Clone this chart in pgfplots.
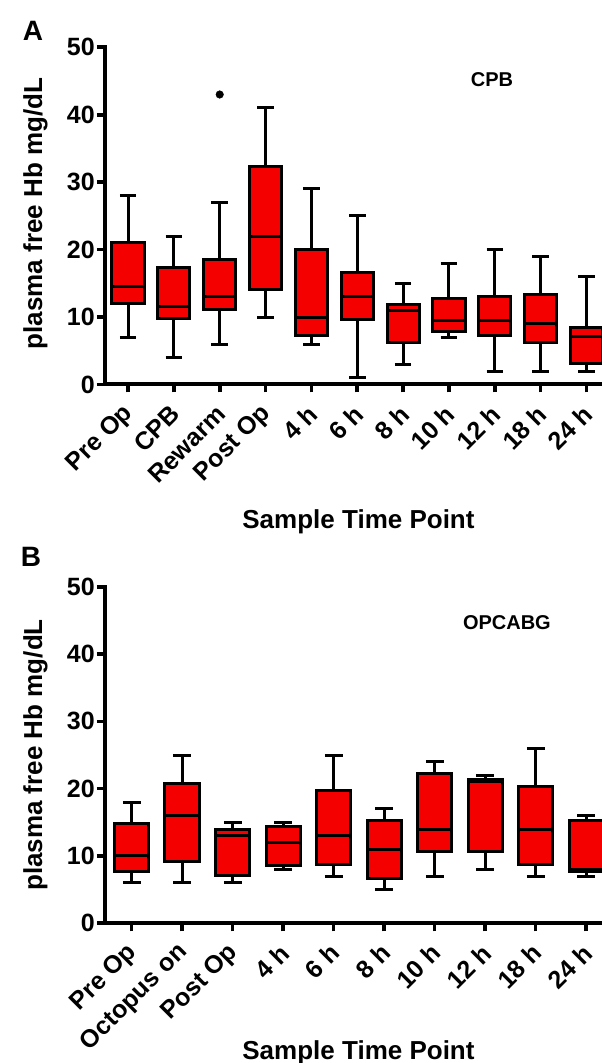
\documentclass[border=0pt]{standalone}
\usepackage{fontspec}
\setmainfont{Liberation Sans}
\usepackage{pgfplots}
\pgfplotsset{compat=1.18}
\usepgfplotslibrary{statistics}
\definecolor{boxred}{RGB}{245,0,0}
\pgfplotsset{
  gpstyle/.style={
    scale only axis, width=497pt,
    axis x line*=bottom, axis y line*=left,
    axis line style={line width=4pt, line cap=rect},
    ymin=0, ymax=50, ytick={0,10,...,50},
    tick align=outside, major tick length=8pt,
    major tick style={black, line width=3.6pt},
    /pgf/number format/assume math mode=true,
    tick label style={font=\fontsize{25}{30}\selectfont\bfseries},
    yticklabel style={inner sep=2pt},
    xticklabel style={xshift=3pt, yshift=-16pt, rotate=45, anchor=east, inner sep=2pt},
    label style={font=\fontsize{26}{30}\selectfont\bfseries},
    boxplot/draw direction=y,
    enlargelimits=false,
    clip=true,
  },
  bx/.style={draw=black, fill=boxred, line width=3pt, mark=*, mark size=3.8pt,
    mark options={fill=black, draw=black, line width=0.4pt}},
}
\begin{document}
\begin{tikzpicture}[x=1pt,y=1pt]
\path[use as bounding box] (0,0) rectangle (602,1063);
% Panel A
\begin{axis}[gpstyle, at={(105pt,678.5pt)}, anchor=south west, height=337.2pt,
  xmin=-0.502, xmax=10.338, xtick={0,...,10},
  xticklabels={Pre Op,CPB,Rewarm,Post Op,4 h,6 h,8 h,10 h,12 h,18 h,24 h},
  boxplot/box extend=0.70, boxplot/whisker extend=0.36,
  xlabel={Sample Time Point}, ylabel={plasma free Hb mg/dL},
  xlabel style={at={(axis description cs:0.510,-0.408)}, anchor=center},
  ylabel style={at={(axis description cs:-0.140,0.507)}, anchor=center},
]
\addplot[bx, boxplot prepared={draw position=0, lower whisker=7, lower quartile=12, median=14.5, upper quartile=21, upper whisker=28}] coordinates {};
\addplot[bx, boxplot prepared={draw position=1, lower whisker=4, lower quartile=9.8, median=11.5, upper quartile=17.3, upper whisker=22}] coordinates {};
\addplot[bx, boxplot prepared={draw position=2, lower whisker=6, lower quartile=11.1, median=13, upper quartile=18.6, upper whisker=27}] coordinates {(0,43)};
\addplot[bx, boxplot prepared={draw position=3, lower whisker=10, lower quartile=14.1, median=22, upper quartile=32.3, upper whisker=41}] coordinates {};
\addplot[bx, boxplot prepared={draw position=4, lower whisker=6, lower quartile=7.2, median=10, upper quartile=20, upper whisker=29}] coordinates {};
\addplot[bx, boxplot prepared={draw position=5, lower whisker=1, lower quartile=9.6, median=13, upper quartile=16.6, upper whisker=25}] coordinates {};
\addplot[bx, boxplot prepared={draw position=6, lower whisker=3, lower quartile=6.3, median=11, upper quartile=11.8, upper whisker=15}] coordinates {};
\addplot[bx, boxplot prepared={draw position=7, lower whisker=7, lower quartile=7.9, median=9.5, upper quartile=12.7, upper whisker=18}] coordinates {};
\addplot[bx, boxplot prepared={draw position=8, lower whisker=2, lower quartile=7.3, median=9.5, upper quartile=13.1, upper whisker=20}] coordinates {};
\addplot[bx, boxplot prepared={draw position=9, lower whisker=2, lower quartile=6.2, median=9, upper quartile=13.3, upper whisker=19}] coordinates {};
\addplot[bx, boxplot prepared={draw position=10, lower whisker=2, lower quartile=3.1, median=7.1, upper quartile=8.5, upper whisker=16}] coordinates {};
\node[font=\fontsize{20}{24}\selectfont\bfseries] at (axis cs:7.94,45.2) {CPB};
\end{axis}
% Panel B
\begin{axis}[gpstyle, at={(105pt,139.7pt)}, anchor=south west, height=336.6pt,
  xmin=-0.528, xmax=9.313, xtick={0,...,9},
  xticklabels={Pre Op,Octopus on,Post Op,4 h,6 h,8 h,10 h,12 h,18 h,24 h},
  boxplot/box extend=0.68, boxplot/whisker extend=0.35,
  xlabel={Sample Time Point}, ylabel={plasma free Hb mg/dL},
  xlabel style={at={(axis description cs:0.510,-0.385)}, anchor=center},
  ylabel style={at={(axis description cs:-0.140,0.5)}, anchor=center},
]
\addplot[bx, boxplot prepared={draw position=0, lower whisker=6, lower quartile=7.7, median=10, upper quartile=14.8, upper whisker=18}] coordinates {};
\addplot[bx, boxplot prepared={draw position=1, lower whisker=6, lower quartile=9.2, median=16, upper quartile=20.8, upper whisker=25}] coordinates {};
\addplot[bx, boxplot prepared={draw position=2, lower whisker=6, lower quartile=7.1, median=13.1, upper quartile=13.9, upper whisker=15}] coordinates {};
\addplot[bx, boxplot prepared={draw position=3, lower whisker=8, lower quartile=8.6, median=12, upper quartile=14.4, upper whisker=15}] coordinates {};
\addplot[bx, boxplot prepared={draw position=4, lower whisker=7, lower quartile=8.7, median=13, upper quartile=19.8, upper whisker=25}] coordinates {};
\addplot[bx, boxplot prepared={draw position=5, lower whisker=5, lower quartile=6.7, median=11, upper quartile=15.3, upper whisker=17}] coordinates {};
\addplot[bx, boxplot prepared={draw position=6, lower whisker=7, lower quartile=10.6, median=14, upper quartile=22.3, upper whisker=24}] coordinates {};
\addplot[bx, boxplot prepared={draw position=7, lower whisker=8, lower quartile=10.7, median=21, upper quartile=21.3, upper whisker=22}] coordinates {};
\addplot[bx, boxplot prepared={draw position=8, lower whisker=7, lower quartile=8.8, median=14, upper quartile=20.3, upper whisker=26}] coordinates {};
\addplot[bx, boxplot prepared={draw position=9, lower whisker=7, lower quartile=7.7, median=8, upper quartile=15.3, upper whisker=16}] coordinates {};
\node[font=\fontsize{20}{24}\selectfont\bfseries] at (axis cs:7.43,44.6) {OPCABG};
\end{axis}
\node[font=\fontsize{28}{30}\selectfont\bfseries] at (33,1032) {A};
\node[font=\fontsize{28}{30}\selectfont\bfseries] at (31,506) {B};
\end{tikzpicture}
\end{document}
